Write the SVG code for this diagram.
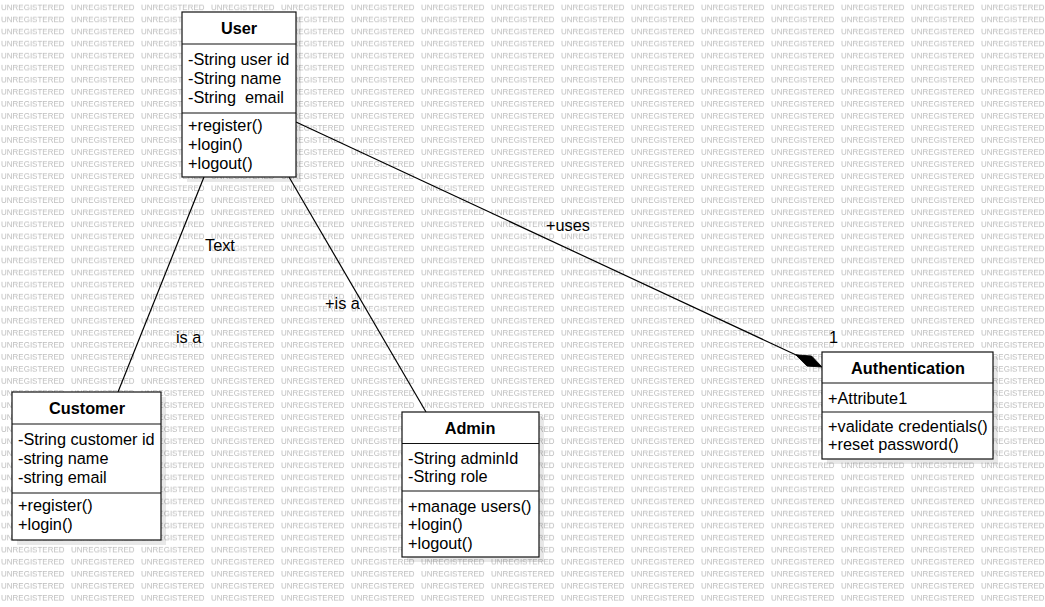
<svg xmlns="http://www.w3.org/2000/svg" width="1045" height="607" viewBox="0 0 1045 607">
  <style>
    .wm { font-family: "Liberation Sans", Arial, sans-serif; font-size: 8px; fill: #bcbcbc; }
    .box { fill: #ffffff; stroke: #111111; stroke-width: 1.2; }
    .shadow { fill: #000000; fill-opacity: 0.09; }
    .sep { stroke: #111111; stroke-width: 1.2; }
    .title { font-family: "Liberation Sans", Arial, sans-serif; font-size: 16.3px; font-weight: bold; fill: #000; text-anchor: middle; }
    .t { font-family: "Liberation Sans", Arial, sans-serif; font-size: 16.3px; fill: #000; }
    .edge { fill: none; stroke: #000; stroke-width: 1.2; }
  </style>
  <defs>
    <pattern id="wmark" x="0" y="0" width="70" height="12.05" patternUnits="userSpaceOnUse">
      <text class="wm" x="1" y="10.2">UNREGISTERED</text>
    </pattern>
    <marker id="diamond" markerUnits="userSpaceOnUse" viewBox="0 -6 29 12" markerWidth="29" markerHeight="12" refX="29" refY="0" orient="auto">
      <path d="M0,0 L15,-5.5 L29,0 L15,5.5 Z" fill="#000" stroke="#000" stroke-width="0.8"/>
    </marker>
  </defs>

  <rect x="0" y="0" width="1045" height="607" fill="#ffffff"/>
  <rect x="0" y="0" width="1045" height="607" fill="url(#wmark)"/>

  <g id="connectors">
    <line class="edge" x1="204" y1="177" x2="118" y2="392"/>
    <line class="edge" x1="289" y1="177" x2="426" y2="412"/>
    <line class="edge" x1="296" y1="122" x2="822" y2="367" marker-end="url(#diamond)"/>
    <text class="t" x="205" y="251">Text</text>
    <text class="t" x="176" y="343">is a</text>
    <text class="t" x="325" y="309">+is a</text>
    <text class="t" x="546" y="231">+uses</text>
    <text class="t" x="829" y="343">1</text>
  </g>

  <g id="user">
    <rect class="shadow" x="187" y="17" width="114" height="165"/>
    <rect class="box" x="182" y="12" width="114" height="165"/>
    <line class="sep" x1="182" y1="44" x2="296" y2="44"/>
    <line class="sep" x1="182" y1="113" x2="296" y2="113"/>
    <text class="title" x="239" y="34">User</text>
    <text class="t" x="188" y="65">-String user id</text>
    <text class="t" x="188" y="84">-String name</text>
    <text class="t" x="188" y="103" xml:space="preserve">-String  email</text>
    <text class="t" x="188" y="131">+register()</text>
    <text class="t" x="188" y="150">+login()</text>
    <text class="t" x="188" y="169">+logout()</text>
  </g>

  <g id="customer">
    <rect class="shadow" x="17" y="397" width="149" height="148"/>
    <rect class="box" x="12" y="392" width="149" height="148"/>
    <line class="sep" x1="12" y1="424" x2="161" y2="424"/>
    <line class="sep" x1="12" y1="493" x2="161" y2="493"/>
    <text class="title" x="87" y="414">Customer</text>
    <text class="t" x="18" y="445">-String customer id</text>
    <text class="t" x="18" y="464">-string name</text>
    <text class="t" x="18" y="483">-string email</text>
    <text class="t" x="18" y="511">+register()</text>
    <text class="t" x="18" y="530">+login()</text>
  </g>

  <g id="admin">
    <rect class="shadow" x="407" y="417" width="137" height="145"/>
    <rect class="box" x="402" y="412" width="137" height="145"/>
    <line class="sep" x1="402" y1="443.5" x2="539" y2="443.5"/>
    <line class="sep" x1="402" y1="491" x2="539" y2="491"/>
    <text class="title" x="470" y="434">Admin</text>
    <text class="t" x="408" y="464">-String adminId</text>
    <text class="t" x="408" y="482">-String role</text>
    <text class="t" x="408" y="511.5">+manage users()</text>
    <text class="t" x="408" y="530">+login()</text>
    <text class="t" x="408" y="549">+logout()</text>
  </g>

  <g id="authentication">
    <rect class="shadow" x="827" y="357" width="171" height="107"/>
    <rect class="box" x="822" y="352" width="171" height="107"/>
    <line class="sep" x1="822" y1="383" x2="993" y2="383"/>
    <line class="sep" x1="822" y1="412" x2="993" y2="412"/>
    <text class="title" x="908" y="374">Authentication</text>
    <text class="t" x="828" y="404">+Attribute1</text>
    <text class="t" x="828" y="431.5">+validate credentials()</text>
    <text class="t" x="828" y="450">+reset password()</text>
  </g>
</svg>
